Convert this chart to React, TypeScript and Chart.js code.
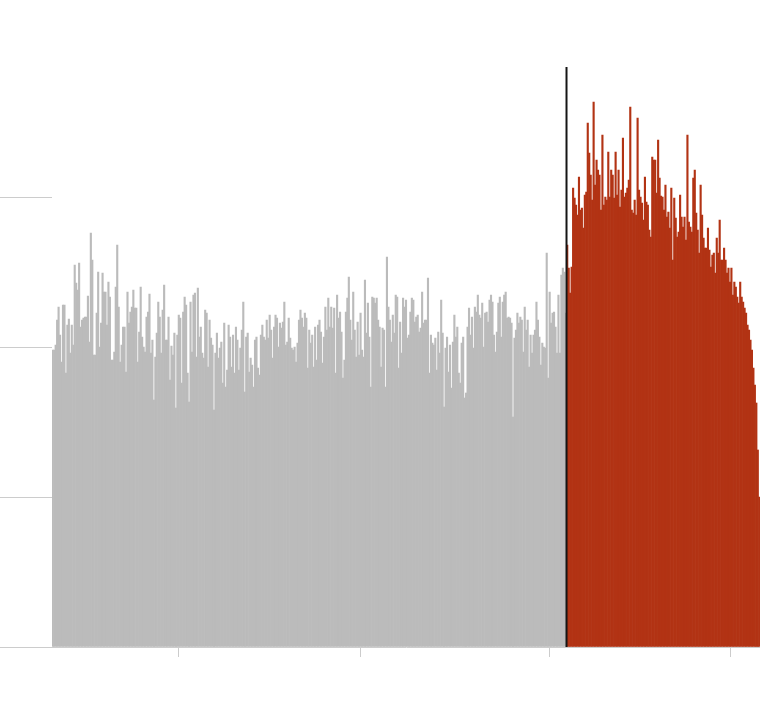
import React, { useEffect, useRef } from "react";
import { Chart, registerables } from "chart.js";

Chart.register(...registerables);

// Gray bars (before the marker line), read left to right
const grayValues: number[] = [
  // segment 1
  297,297,302,327,340,312,285,342,342,274,322,328,294,322,302,382,364,357,384,320,
  327,329,330,330,351,305,414,387,292,292,334,375,300,324,374,355,355,322,365,350,
  287,287,295,360,402,340,285,302,320,320,275,355,324,335,340,357,339,339,285,315,
  360,310,300,295,330,335,353,294,307,247,290,314,345,330,294,337,362,307,307,330,
  // segment 2
  267,301,292,314,239,312,332,329,264,335,350,342,274,245,345,295,352,354,290,359,
  310,320,294,289,337,334,280,327,309,302,237,294,314,289,299,305,264,324,260,277,
  322,310,280,312,274,320,307,277,299,317,345,255,310,314,275,289,282,260,307,310,
  279,272,312,322,310,307,327,309,332,317,289,320,332,329,300,324,319,325,345,302,
  // segment 3
  305,329,309,299,297,300,285,304,327,337,329,320,334,329,279,317,304,312,280,320,
  287,322,327,315,284,310,340,317,349,320,340,319,339,274,352,329,335,315,269,287,
  335,349,370,327,307,355,317,290,325,292,334,297,290,367,314,344,310,260,350,349,
  344,349,327,320,280,319,317,260,390,340,327,305,332,314,352,350,279,325,294,349,
  340,347,309,
  // segment 4
  312,335,349,347,325,330,332,315,319,355,324,327,327,369,274,312,304,302,309,277,
  315,294,347,314,240,299,310,275,302,259,305,332,310,320,274,264,304,310,249,254,
  320,339,312,330,299,340,335,352,332,329,344,300,334,335,325,347,352,345,312,295,
  315,344,350,310,345,352,355,329,330,329,324,230,309,317,334,324,330,327,295,340,
  317,327,280,312,294,312,317,345,327,310,282,304,300,299,394,269,355,324,334,335,
  320,294,352,294,372,379,375,334,
];

// Red bars (after the marker line)
const redValues: number[] = [
  402,379,354,380,459,449,442,432,470,437,439,419,452,455,524,494,472,447,545,462,
  487,477,472,437,512,442,450,447,495,450,477,472,449,495,452,477,440,457,509,450,
  454,459,467,540,437,434,447,432,529,457,450,444,427,470,445,442,417,410,490,487,
  487,454,507,469,
  451,450,437,462,430,435,419,459,387,449,429,410,415,452,430,420,430,407,512,425,
  420,415,469,477,434,417,394,462,432,409,399,399,419,397,380,392,394,374,409,394,
  427,387,387,399,387,374,379,365,379,352,365,360,350,344,365,350,345,339,334,322,
  317,307,297,279,262,244,197,150,
];

// Positions of the x-axis tick marks (in bar-index units)
const xTickValues: number[] = [85.5, 210.3, 338.6, 462.7];

// Y axis range and gridline values
const yMax = 580;
const yTickValues: number[] = [0, 150, 300, 450];

const GRAY = "#bbbbbb";
const RED = "#b23314";
const GRID = "#cccccc";

export default function App() {
  const ref = useRef<HTMLCanvasElement | null>(null);

  useEffect(() => {
    if (!ref.current) return;
    const grayData = grayValues.map((v, i) => ({ x: i, y: v }));
    const redData = redValues.map((v, i) => ({ x: grayValues.length + i, y: v }));
    const total = grayValues.length + redValues.length;
    const split = grayValues.length - 0.5;

    const chart = new Chart(ref.current, {
      type: "bar",
      data: {
        datasets: [
          {
            type: "line",
            data: [
              { x: split, y: 0 },
              { x: split, y: yMax },
            ],
            borderColor: "#151515",
            borderWidth: 2,
            pointRadius: 0,
            order: 0,
          } as any,
          {
            data: grayData,
            backgroundColor: GRAY,
            borderWidth: 0,
            barPercentage: 1,
            categoryPercentage: 1,
            grouped: false,
            order: 1,
          } as any,
          {
            data: redData,
            backgroundColor: RED,
            borderWidth: 0,
            barPercentage: 1,
            categoryPercentage: 1,
            grouped: false,
            order: 2,
          } as any,
        ],
      },
      options: {
        animation: false,
        responsive: true,
        maintainAspectRatio: false,
        layout: { padding: { top: 67, left: 0, right: 0, bottom: 0 } },
        plugins: {
          legend: { display: false },
          tooltip: { enabled: false },
        },
        scales: {
          x: {
            type: "linear",
            offset: false,
            min: -0.5,
            max: total - 0.5,
            afterBuildTicks: (scale: any) => {
              scale.ticks = xTickValues.map((v) => ({ value: v }));
            },
            afterFit: (scale: any) => {
              scale.height = 73;
            },
            ticks: { display: false },
            grid: {
              offset: false,
              drawOnChartArea: false,
              drawTicks: true,
              tickLength: 10,
              color: GRID,
              lineWidth: 1,
            },
            border: { display: true, color: GRID, width: 1 },
          },
          y: {
            min: 0,
            max: yMax,
            afterBuildTicks: (scale: any) => {
              scale.ticks = yTickValues.map((v) => ({ value: v }));
            },
            ticks: { display: false },
            afterFit: (scale: any) => {
              scale.width = 52;
            },
            grid: {
              drawOnChartArea: false,
              drawTicks: true,
              tickLength: 52,
              color: GRID,
              lineWidth: 1,
            },
            border: { display: false },
          },
        },
      },
    });
    return () => chart.destroy();
  }, []);

  return (
    <div style={{ position: "fixed", left: 0, top: 0, width: 760, height: 720, background: "#fff" }}>
      <canvas ref={ref} />
    </div>
  );
}
